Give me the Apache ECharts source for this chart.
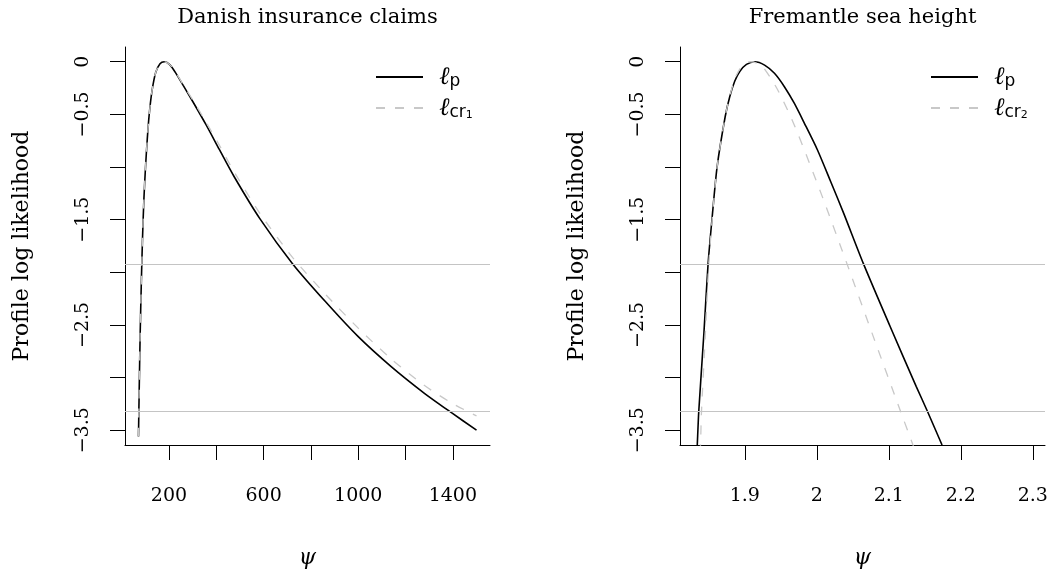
<!DOCTYPE html>
<html>
<head>
<meta charset="utf-8">
<script src="https://cdn.jsdelivr.net/npm/echarts@6/dist/echarts.min.js"></script>
<style>
  html, body { margin: 0; padding: 0; background: #ffffff; }
  #chart { width: 1059px; height: 574px; }
</style>
</head>
<body>
<div id="chart"></div>
<script>
// Danish insurance claims: profile log likelihood (psi = return level)
const danishPsi = [71, 74, 78, 83, 88, 94, 101, 108, 116, 128, 144, 162, 180, 204, 232, 260, 301, 357, 412, 475, 584, 723, 862, 1000, 1138, 1277, 1394, 1500];
const danishLp  = [-3.56, -3.12, -2.6, -2.1, -1.68, -1.3, -0.99, -0.74, -0.51, -0.28, -0.1, -0.018, 0, -0.03, -0.12, -0.225, -0.38, -0.60, -0.83, -1.09, -1.49, -1.92, -2.28, -2.611, -2.893, -3.144, -3.333, -3.499];
const danishLcr = [-3.56, -3.12, -2.6, -2.1, -1.68, -1.3, -0.99, -0.74, -0.51, -0.28, -0.1, -0.018, 0, -0.03, -0.115, -0.218, -0.365, -0.575, -0.79, -1.045, -1.44, -1.86, -2.21, -2.53, -2.82, -3.07, -3.24, -3.364];

// Fremantle sea height: profile and corrected profile
const fremPsi = [1.8335, 1.8340, 1.8361, 1.8431, 1.8490, 1.8545, 1.8615, 1.8728, 1.8790, 1.8860, 1.8930, 1.9023, 1.9138, 1.9275, 1.9412, 1.9550, 1.9687, 1.9825, 2.0008, 2.0191, 2.0374, 2.0649, 2.1016, 2.1382, 2.1535, 2.1740, 2.1780];
const fremLp  = [-3.72, -3.64, -3.317, -2.589, -1.92, -1.49, -1.0, -0.52, -0.335, -0.185, -0.092, -0.025, 0, -0.032, -0.11, -0.237, -0.394, -0.58, -0.836, -1.135, -1.44, -1.92, -2.51, -3.085, -3.317, -3.64, -3.70];
const fremPsiCr = [1.8380, 1.8385, 1.8399, 1.8452, 1.8500, 1.8548, 1.8615, 1.8728, 1.8790, 1.8860, 1.8930, 1.9000, 1.9080, 1.9160, 1.9250, 1.9458, 1.9687, 1.9916, 2.0131, 2.0329, 2.0420, 2.0790, 2.1162, 2.1336, 2.1370];
const fremLcr   = [-3.72, -3.64, -3.317, -2.589, -1.92, -1.49, -1.0, -0.52, -0.33, -0.165, -0.07, -0.015, 0, -0.012, -0.047, -0.268, -0.60, -0.994, -1.38, -1.75, -1.92, -2.62, -3.317, -3.64, -3.70];

// Axis ticks and labels
const yTicks  = [0, -0.5, -1, -1.5, -2, -2.5, -3, -3.5];
const yLabels = [0, -0.5, -1.5, -2.5, -3.5];
const danishXTicks  = [200, 400, 600, 800, 1000, 1200, 1400];
const danishXLabels = [200, 600, 1000, 1400];
const fremXTicks  = [1.9, 2.0, 2.1, 2.2, 2.3];
const fremXLabels = [1.9, 2.0, 2.1, 2.2, 2.3];

// Reference levels: half the chi-square(1) 0.95 and 0.99 quantiles
const cutoffs = [-1.92, -3.317];

const SERIF = 'DejaVu Serif';
const GRAY = '#c4c4c4';
const DASH_GRAY = '#c8c8c8';

const zip = (xs, ys) => xs.map((x, i) => [x, ys[i]]);
const fmtNum = v => {
  const r = Math.round(v * 10) / 10;
  return (r < 0 ? '\u2212' : '') + String(Math.abs(r));
};

function xAxis(gridIndex, min, max, ticks, labels) {
  return {
    type: 'value', gridIndex, min, max,
    axisLine: { show: true, onZero: false, lineStyle: { color: '#000', width: 1 } },
    axisTick: { show: true, inside: false, length: 15, customValues: ticks, lineStyle: { color: '#000', width: 1 } },
    axisLabel: { show: true, customValues: labels, margin: 42, formatter: fmtNum,
                 color: '#000', fontFamily: SERIF, fontSize: 19 },
    splitLine: { show: false },
    name: '\u03C8', nameLocation: 'middle', nameGap: 102,
    nameTextStyle: { color: '#000', fontFamily: SERIF, fontStyle: 'italic', fontSize: 22 }
  };
}

function yAxis(gridIndex) {
  return {
    type: 'value', gridIndex, min: -3.64, max: 0.14,
    axisLine: { show: true, onZero: false, lineStyle: { color: '#000', width: 1 } },
    axisTick: { show: true, inside: false, length: 15, customValues: yTicks, lineStyle: { color: '#000', width: 1 } },
    axisLabel: { show: true, customValues: yLabels, rotate: 90, margin: 32, formatter: fmtNum,
                 color: '#000', fontFamily: SERIF, fontSize: 19 },
    splitLine: { show: false },
    name: 'Profile log likelihood', nameLocation: 'middle', nameGap: 92,
    nameTextStyle: { color: '#000', fontFamily: SERIF, fontSize: 22 }
  };
}

function curve(name, idx, data, dashed) {
  const s = {
    name, type: 'line', xAxisIndex: idx, yAxisIndex: idx, data,
    symbol: 'none', showSymbol: false, smooth: 0.25, clip: true,
    lineStyle: dashed ? { color: DASH_GRAY, width: 1.3, type: [9, 10] }
                      : { color: '#000', width: 1.6, type: 'solid' },
    itemStyle: { color: dashed ? DASH_GRAY : '#000' },
    z: dashed ? 3 : 2
  };
  if (!dashed) {
    s.markLine = {
      silent: true, symbol: ['none', 'none'], label: { show: false },
      lineStyle: { color: GRAY, width: 1, type: 'solid' },
      data: cutoffs.map(v => ({ yAxis: v }))
    };
  }
  return s;
}

const richLegend = {
  l:  { fontFamily: SERIF, fontStyle: 'italic', fontSize: 25, lineHeight: 26, verticalAlign: 'bottom', color: '#000', padding: [0, 0, 0, 11] },
  s:  { fontFamily: 'DejaVu Sans', fontSize: 17, lineHeight: 19, verticalAlign: 'bottom', color: '#000' },
  d:  { fontFamily: 'DejaVu Sans', fontSize: 11, lineHeight: 9, verticalAlign: 'bottom', color: '#000' }
};
const legendText = {
  dLp: '{l|\u2113}{s|p}', dLcr: '{l|\u2113}{s|cr}{d|1}',
  fLp: '{l|\u2113}{s|p}', fLcr: '{l|\u2113}{s|cr}{d|2}'
};
function legend(names, left) {
  return {
    data: names, orient: 'vertical', left, top: 65, padding: 0,
    itemWidth: 47, itemHeight: 20, itemGap: 6, selectedMode: false,
    itemStyle: { opacity: 0 },
    formatter: n => legendText[n],
    textStyle: { rich: richLegend }
  };
}

const titleStyle = { fontFamily: SERIF, fontSize: 21, fontWeight: 'normal', color: '#000' };

const chart = echarts.init(document.getElementById('chart'), null, { renderer: 'canvas' });
chart.setOption({
  animation: false,
  backgroundColor: '#ffffff',
  title: [
    { text: 'Danish insurance claims', left: 307.5, top: 7, padding: 0, textAlign: 'center', textStyle: titleStyle },
    { text: 'Fremantle sea height', left: 862.5, top: 7, padding: 0, textAlign: 'center', textStyle: titleStyle }
  ],
  legend: [legend(['dLp', 'dLcr'], 375), legend(['fLp', 'fLcr'], 930)],
  grid: [
    { left: 125, top: 47, width: 365, height: 401 },
    { left: 680, top: 47, width: 365, height: 401 }
  ],
  xAxis: [
    xAxis(0, 14, 1557, danishXTicks, danishXLabels),
    xAxis(1, 1.81, 2.317, fremXTicks, fremXLabels)
  ],
  yAxis: [yAxis(0), yAxis(1)],
  series: [
    curve('dLp', 0, zip(danishPsi, danishLp), false),
    curve('dLcr', 0, zip(danishPsi, danishLcr), true),
    curve('fLp', 1, zip(fremPsi, fremLp), false),
    curve('fLcr', 1, zip(fremPsiCr, fremLcr), true)
  ]
});
</script>
</body>
</html>
